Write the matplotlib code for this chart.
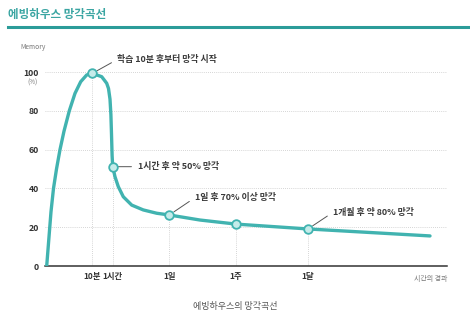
import matplotlib.pyplot as plt
from matplotlib.lines import Line2D

plt.rcParams['font.family'] = ['Noto Sans CJK KR', 'DejaVu Sans']

# curve (x = arbitrary time position, y = memory %)
curve_x = [1.7, 4, 6, 8.5, 11.5, 15, 19, 24.3, 30, 35.7, 41.7, 47.3,
           56.7, 61.7, 63.5, 65, 65.9, 66.5, 67.1, 67.7,
           70, 73.3, 78.3, 86.7, 98.3, 111.7, 124.3, 155, 191, 263, 385]
curve_y = [0, 15, 28, 40, 50, 60, 69.5, 80, 89, 95, 98.5, 99.3,
           97.6, 94.2, 91.5, 86, 78, 68, 57, 51.2,
           46, 40.9, 35.7, 31.4, 28.9, 27.2, 26.3, 23.7, 21.6, 19.1, 15.5]

# marked events
event_labels = ['10분', '1시간', '1일', '1주', '1달']
event_x = [47.3, 67.7, 124.3, 191, 263]
event_y = [99.3, 51.2, 26.3, 21.6, 19.1]

notes = ['학습 10분 후부터 망각 시작', '1시간 후 약 50% 망각', '1일 후 70% 이상 망각', None, '1개월 후 약 80% 망각']
note_offsets = [(18, 10), (18, 0), (18.5, 12.5), None, (18, 12)]

yticks = [0, 20, 40, 60, 80, 100]

teal = '#41b3b0'
dark = '#333333'

fig = plt.figure(figsize=(4.7, 3.23), dpi=100)
fig.patch.set_facecolor('white')
ax = fig.add_axes([45/470, 57/323, 402/470, 0.6606])

# grid
for v in yticks[1:]:
    ax.axhline(v, color='#c8c8c8', lw=0.6, ls=(0, (1, 1.5)), zorder=1)
for ex, ey in zip(event_x, event_y):
    ax.plot([ex, ex], [0, ey], color='#c8c8c8', lw=0.6, ls=(0, (1, 1.5)), zorder=1)

ax.plot(curve_x, curve_y, color=teal, lw=2.4, solid_capstyle='round', solid_joinstyle='round', zorder=3)
ax.plot(event_x, event_y, 'o', ms=6.2, mfc='#c5ecea', mec=teal, mew=1.3, zorder=4)

for ex, ey, txt, off in zip(event_x, event_y, notes, note_offsets):
    if txt is None:
        continue
    ax.annotate(txt, xy=(ex, ey), xytext=off, textcoords='offset points',
                ha='left', va='center', fontsize=6.4, color='#3a3a3a', fontweight='bold',
                arrowprops=dict(arrowstyle='-', color='#555555', lw=0.7,
                                shrinkA=2.5, shrinkB=4, relpos=(0, 0.5)))

ax.set_xlim(0, 402)
ax.set_ylim(0, 110)
ax.set_yticks(yticks)
ax.set_yticklabels([str(v) for v in yticks], fontsize=6.3, color=dark, fontweight='bold')
ax.set_xticks(event_x)
ax.set_xticklabels(event_labels, fontsize=6.0, color=dark, fontweight='bold')
ax.tick_params(length=0, pad=4.5)
for s in ['top', 'right', 'left']:
    ax.spines[s].set_visible(False)
ax.spines['bottom'].set_color('#333333')
ax.spines['bottom'].set_linewidth(1.1)

# extra axis labels
ax.text(-0.032, 0.859, '(%)', transform=ax.transAxes, fontsize=4.5, color='#777777', ha='center', va='center')
ax.text(-0.03, 1.028, 'Memory', transform=ax.transAxes, fontsize=4.8, color='#777777', ha='center', va='center')
ax.text(1.0, -0.062, '시간의 경과', transform=ax.transAxes, fontsize=5, color='#777777', ha='right', va='center')

# header + caption
fig.text(8/470, 1 - 14/323, '에빙하우스 망각곡선', fontsize=8.3, fontweight='bold', color='#3aa5a2', ha='left', va='center')
fig.add_artist(Line2D([8/470, 1.0], [1 - 27/323, 1 - 27/323], color='#2b9c99', lw=2.2))
fig.text(0.5, 1 - 306/323, '에빙하우스의 망각곡선', fontsize=6.5, color='#555555', ha='center', va='center')

fig.savefig('out.png', dpi=100)
